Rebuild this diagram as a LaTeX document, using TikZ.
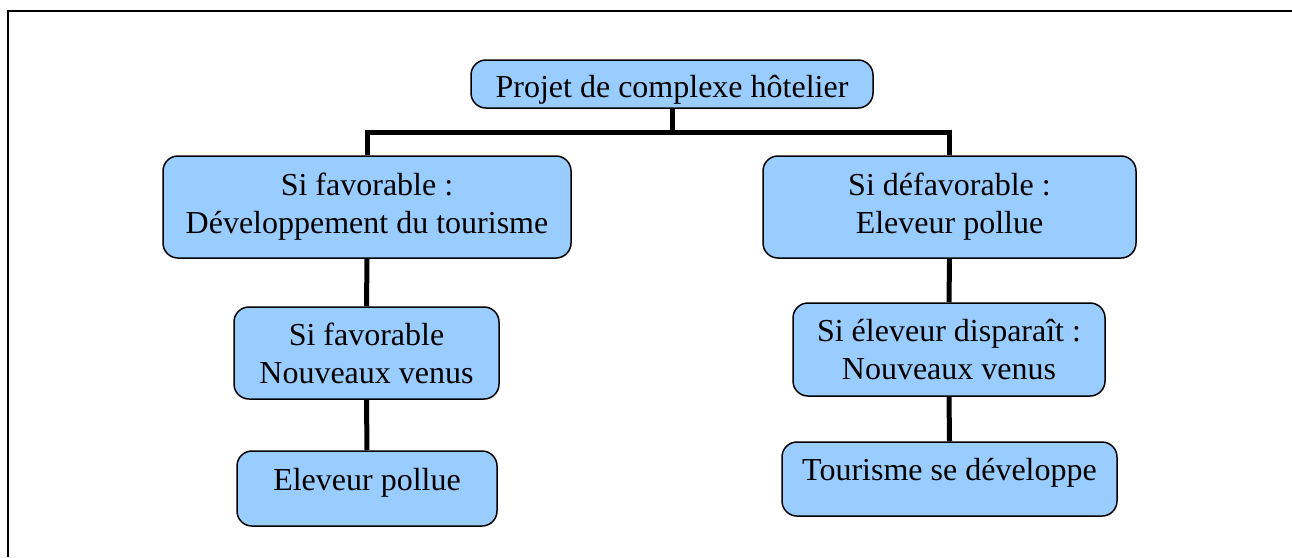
\documentclass[tikz,border=0pt]{standalone}
\usepackage{fontspec}
\setmainfont{Liberation Serif}
\definecolor{boxblue}{HTML}{99CCFF}
\begin{document}
\begin{tikzpicture}[x=1pt,y=-1pt,
  box/.style={draw=black,line width=1.5pt,fill=boxblue,rounded corners=15pt,
    align=center,inner sep=0pt,font=\fontsize{32}{38}\selectfont},
  conn/.style={draw=black,line width=5pt}]
\useasboundingbox (0,0) rectangle (1292,557);
% outer frame (open on the right and bottom)
\draw[line width=2pt] (8,557) -- (8,11) -- (1292,11);

% boxes
\node[box,minimum width=402pt,minimum height=48pt,text height=30pt,text depth=4pt] (top) at (672,84)
  {Projet de complexe hôtelier};
\node[box,minimum width=408pt,minimum height=102pt] (L1) at (367,207)
  {Si favorable :\\Développement du tourisme};
\node[box,minimum width=373pt,minimum height=102pt] (R1) at (949.5,207)
  {Si défavorable :\\Eleveur pollue};
\node[box,minimum width=265pt,minimum height=92pt] (L2) at (366.5,353)
  {Si favorable\\Nouveaux venus};
\node[box,minimum width=312pt,minimum height=93pt] (R2) at (949,349.5)
  {Si éleveur disparaît :\\Nouveaux venus};
\node[box,minimum width=260pt,minimum height=75pt,text height=24pt,text depth=21pt] (L3) at (367,488.5)
  {Eleveur pollue};
\node[box,minimum width=335pt,minimum height=74pt,text height=24pt,text depth=22pt] (R3) at (949.5,479)
  {Tourisme se développe};

% connectors
\coordinate (bar) at (672,132);
\draw[conn] (top.south) -- (bar);
\draw[conn] (L1.north) |- (bar) -| (R1.north);
\draw[conn] (L1.south) -- (L2.north);
\draw[conn] (L2.south) -- (L3.north);
\draw[conn] (R1.south) -- (R2.north);
\draw[conn] (R2.south) -- (R3.north);
\end{tikzpicture}
\end{document}
